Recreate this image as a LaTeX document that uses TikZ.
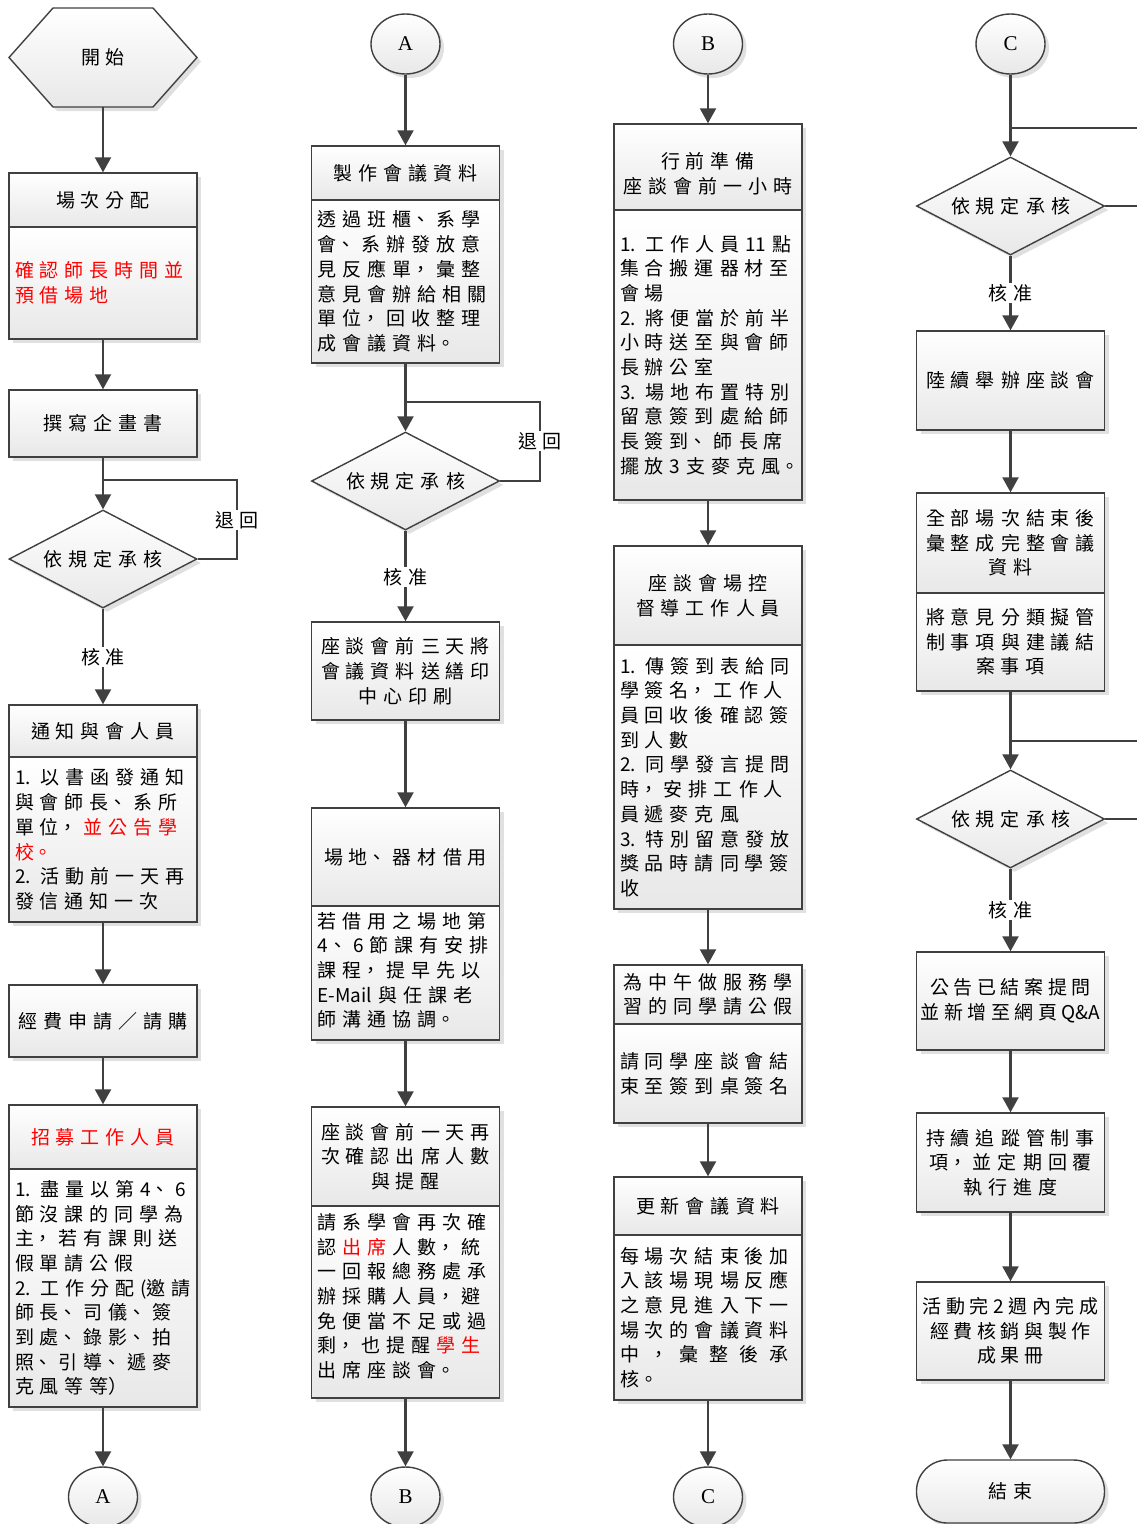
\documentclass[tikz,border=0pt]{standalone}
\usepackage{fontspec}
\setmainfont{Noto Sans CJK TC}
\newfontfamily\latinserif{Liberation Serif}
\usetikzlibrary{arrows.meta,shapes.geometric,shadows}
\XeTeXlinebreaklocale "zh"
\XeTeXlinebreakskip=6pt
\XeTeXlinebreakpenalty=10000
\tikzset{
  txt/.style={font=\fontsize{19}{24.7}\selectfont},
  base/.style={txt, draw=black!75, line width=1.4pt, top color=white, bottom color=black!9,
    drop shadow={shadow xshift=4pt, shadow yshift=-4pt, fill=black!12, opacity=1}, inner sep=0pt},
  ctr/.style={base, rectangle, minimum width=188pt, text width=186pt, align=center},
  lft/.style={base, rectangle, minimum width=188pt, text width=176pt, inner xsep=6pt, inner ysep=0pt, align=left},
  dia/.style={base, diamond, aspect=1.92, minimum width=188pt, minimum height=98pt, text width=124pt, align=center},
  ell/.style={base, ellipse, minimum width=69pt, minimum height=60pt, font=\latinserif\fontsize{21}{21}\selectfont},
  term/.style={base, rectangle, rounded corners=31pt, minimum width=188pt, minimum height=63pt, text width=60pt, align=center},
  lbl/.style={txt, fill=white, inner sep=1pt, text width=46pt, align=center},
  ln/.style={draw=black!75, line width=2.2pt},
  arr/.style={ln, -{Triangle[length=15pt,width=16pt]}}
}
\begin{document}
\begin{tikzpicture}[x=1pt, y={(0pt,-1pt)}]
\useasboundingbox[fill=white] (0,0) rectangle (1137,1524);

% ---------------- column 1 ----------------
\path[base] (9,57.5) -- (53,8) -- (153,8) -- (197,57.5) -- (153,107) -- (53,107) -- cycle;
\node[txt, text width=60pt, align=center, minimum width=188pt, minimum height=99pt, inner sep=0pt] (start) at (103,57.5) {開始};
\node[ctr, minimum height=54pt] (b1h) at (103,200) {場次分配};
\node[lft, minimum height=112pt] (b1b) at (103,283) {\textcolor{red}{確認師長時間並}\\\textcolor{red}{預借場地}};
\node[ctr, minimum height=67pt] (b2) at (103,423.5) {撰寫企畫書};
\node[dia] (d1) at (103,559) {依規定承核};
\node[ctr, minimum height=52pt] (b3h) at (103,731) {通知與會人員};
\node[lft, minimum height=165pt] (b3b) at (103,839.5) {1. 以書函發通知\\與會師長、系所\\單位，\hspace{6pt}\textcolor{red}{並公告學}\\\textcolor{red}{校。}\\2. 活動前一天再\\發信通知一次};
\node[ctr, minimum height=72pt] (b4) at (103,1021) {經費申請／請購};
\node[ctr, minimum height=64pt] (b5h) at (103,1137) {\textcolor{red}{招募工作人員}};
\node[lft, minimum height=238pt] (b5b) at (103,1288) {1. 盡量以第4、6\\節沒課的同學為\\主，若有課則送\\假單請公假\\2. 工作分配(邀請\\師長、司儀、簽\\到處、錄影、拍\\照、引導、遞麥\\克風等等）};
\node[ell] (cA1) at (103,1497) {A};

% ---------------- column 2 ----------------
\node[ell] (cA2) at (405.5,44) {A};
\node[ctr, minimum height=54pt] (c2h) at (405.5,173) {製作會議資料};
\node[lft, minimum height=163pt] (c2b) at (405.5,281.5) {透過班櫃、系學\\會、系辦發放意\\見反應單，彙整\\意見會辦給相關\\單位，回收整理\\成會議資料。};
\node[dia] (d2) at (405.5,481) {依規定承核};
\node[ctr, minimum height=98pt] (c3) at (405.5,671) {座談會前三天將\\會議資料送繕印\\中心印刷};
\node[ctr, minimum height=98pt] (c4h) at (405.5,857) {場地、器材借用};
\node[lft, minimum height=134pt] (c4b) at (405.5,973) {若借用之場地第\\4、6節課有安排\\課程，提早先以\\E\mbox{-}Mail與任課老\\師溝通協調。\rule[-7pt]{0pt}{1pt}};
\node[ctr, minimum height=99pt] (c5h) at (405.5,1156.5) {座談會前一天再\\次確認出席人數\\與提醒};
\node[lft, minimum height=192pt] (c5b) at (405.5,1302) {請系學會再次確\\認\hspace{6pt}\textcolor{red}{出席}\hspace{6pt}人數，統\\一回報總務處承\\辦採購人員，避\\免便當不足或過\\剩，也提醒\hspace{6pt}\textcolor{red}{學生}\\出席座談會。\rule[-13pt]{0pt}{1pt}};
\node[ell] (cB1) at (405.5,1497) {B};

% ---------------- column 3 ----------------
\node[ell] (cB2) at (708,44) {B};
\node[ctr, minimum height=86pt] (e1h) at (708,167) {\rule{0pt}{29pt}行前準備\\座談會前一小時};
\node[lft, minimum height=290pt] (e1b) at (708,355) {1. 工作人員11點\\集合搬運器材至\\會場\\2. 將便當於前半\\小時送至與會師\\長辦公室\\3. 場地布置特別\\留意簽到處給師\\長簽到、師長席\\擺放3支麥克風。};
\node[ctr, minimum height=99pt] (e2h) at (708,595.5) {座談會場控\\督導工作人員};
\node[lft, minimum height=264pt] (e2b) at (708,777) {1. 傳簽到表給同\\學簽名，工作人\\員回收後確認簽\\到人數\\2. 同學發言提問\\時，安排工作人\\員遞麥克風\\3. 特別留意發放\\獎品時請同學簽\\收};
\node[ctr, minimum height=59pt] (e3h) at (708,994.5) {為中午做服務學\\習的同學請公假};
\node[lft, minimum height=99pt] (e3b) at (708,1073.5) {請同學座談會結\\束至簽到桌簽名};
\node[ctr, minimum height=58pt] (e4h) at (708,1206) {更新會議資料};
\node[lft, minimum height=165pt] (e4b) at (708,1317.5) {每場次結束後加\\入該場現場反應\\之意見進入下一\\場次的會議資料\\\makebox[169pt][s]{中\hfil ，\hfil 彙\hfil 整\hfil 後\hfil 承}\\核。};
\node[ell] (cC1) at (708,1497) {C};

% ---------------- column 4 ----------------
\node[ell] (cC2) at (1010.5,44) {C};
\node[dia] (d3) at (1010.5,206) {依規定承核};
\node[ctr, minimum height=99pt] (f1) at (1010.5,380.5) {陸續舉辦座談會};
\node[ctr, minimum height=100pt] (f2h) at (1010.5,543) {全部場次結束後\\彙整成完整會議\\資料};
\node[ctr, minimum height=98pt] (f2b) at (1010.5,642) {將意見分類擬管\\制事項與建議結\\案事項};
\node[dia] (d4) at (1010.5,819) {依規定承核};
\node[ctr, minimum height=98pt] (f3) at (1010.5,1001) {\XeTeXlinebreakskip=4.5pt 公告已結案提問\\並新增至網頁Q\&A};
\node[ctr, minimum height=99pt] (f4) at (1010.5,1162.5) {持續追蹤管制事\\項，並定期回覆\\執行進度};
\node[ctr, minimum height=98pt] (f5) at (1010.5,1331) {\XeTeXlinebreakskip=4.5pt 活動完2週內完成\\經費核銷與製作\\成果冊};
\node[term] (endn) at (1010.5,1491.5) {結束};

% ---------------- connectors column 1 ----------------
\draw[arr] (start.south) -- (b1h.north);
\draw[arr] (b1b.south) -- (b2.north);
\draw[arr] (b2.south) -- (d1.north);
\coordinate (r1) at (237,480);
\coordinate (j1) at (103,480);
\draw[ln] (d1.east) -| (r1) -- (j1);
\node[lbl] (lb1) at (237,520) {退回};
\draw[arr] (d1.south) -- (b3h.north);
\node[lbl] (lk1) at (103,657) {核准};
\draw[arr] (b3b.south) -- (b4.north);
\draw[arr] (b4.south) -- (b5h.north);
\draw[arr] (b5b.south) -- (cA1.north);

% ---------------- connectors column 2 ----------------
\draw[arr] (cA2.south) -- (c2h.north);
\draw[arr] (c2b.south) -- (d2.north);
\coordinate (r2) at (540,402);
\coordinate (j2) at (405.5,402);
\draw[ln] (d2.east) -| (r2) -- (j2);
\node[lbl] (lb2) at (540,441) {退回};
\draw[arr] (d2.south) -- (c3.north);
\node[lbl] (lk2) at (405.5,577) {核准};
\draw[arr] (c3.south) -- (c4h.north);
\draw[arr] (c4b.south) -- (c5h.north);
\draw[arr] (c5b.south) -- (cB1.north);

% ---------------- connectors column 3 ----------------
\draw[arr] (cB2.south) -- (e1h.north);
\draw[arr] (e1b.south) -- (e2h.north);
\draw[arr] (e2b.south) -- (e3h.north);
\draw[arr] (e3b.south) -- (e4h.north);
\draw[arr] (e4b.south) -- (cC1.north);

% ---------------- connectors column 4 ----------------
\draw[arr] (cC2.south) -- (d3.north);
\coordinate (j3) at (1010.5,128);
\coordinate (o3) at (1137,128);
\coordinate (o3b) at (1137,206);
\draw[ln] (j3) -- (o3);
\draw[ln] (d3.east) -- (o3b);
\draw[arr] (d3.south) -- (f1.north);
\node[lbl] (lk3) at (1010.5,293) {核准};
\draw[arr] (f1.south) -- (f2h.north);
\draw[arr] (f2b.south) -- (d4.north);
\coordinate (j4) at (1010.5,741);
\coordinate (o4) at (1137,741);
\coordinate (o4b) at (1137,819);
\draw[ln] (j4) -- (o4);
\draw[ln] (d4.east) -- (o4b);
\draw[arr] (d4.south) -- (f3.north);
\node[lbl] (lk4) at (1010.5,910) {核准};
\draw[arr] (f3.south) -- (f4.north);
\draw[arr] (f4.south) -- (f5.north);
\draw[arr] (f5.south) -- (endn.north);
\end{tikzpicture}
\end{document}
